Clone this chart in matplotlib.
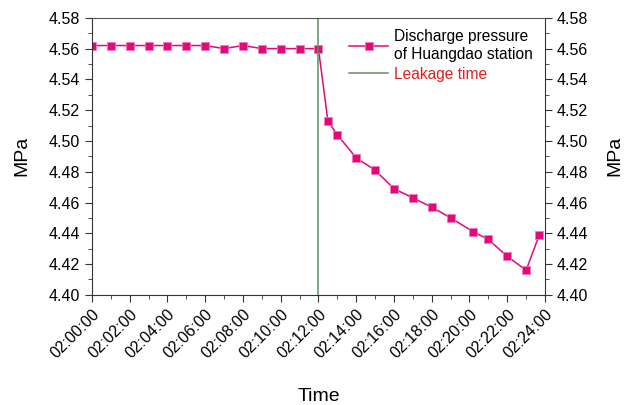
import matplotlib.pyplot as plt
import numpy as np

plt.rcParams['font.family'] = ['Liberation Sans', 'DejaVu Sans']

# minutes after 02:00:00
minutes = np.array([0, 1, 2, 3, 4, 5, 6, 7, 8, 9, 10, 11, 12,
                    12.5, 13, 14, 15, 16, 17, 18, 19, 20.2, 21, 22, 23, 23.7])
pressure = np.array([4.562, 4.562, 4.562, 4.562, 4.562, 4.562, 4.562, 4.560, 4.562,
                     4.560, 4.560, 4.560, 4.560,
                     4.513, 4.504, 4.489, 4.481, 4.469, 4.463, 4.457, 4.450,
                     4.441, 4.436, 4.425, 4.416, 4.439])
leak_minute = 12
tick_minutes = np.arange(0, 25, 2)
tick_labels = ["02:%02d:00" % m for m in tick_minutes]

pink = '#e2097c'
green = '#5f8f63'
axcol = '#3a3333'

fig = plt.figure(figsize=(6.25, 4.05), dpi=100)
ax = fig.add_axes([0.147, 0.272, 0.725, 0.684])

ax.plot(minutes, pressure, color=pink, lw=1.1, marker='s', ms=5.5,
        mec='#f07ab5', mew=0.6, label="Discharge pressure\nof Huangdao station")
ax.axvline(leak_minute, color=green, lw=1.1, label="Leakage time")

ax.set_xlim(0, 24)
ax.set_ylim(4.40, 4.58)
ax.set_xticks(tick_minutes)
ax.set_xticks(np.arange(1, 24, 2), minor=True)
ax.set_xticklabels(tick_labels, rotation=45, ha='right', rotation_mode='anchor', fontsize=11.5)
yt = np.arange(4.40, 4.581, 0.02)
ax.set_yticks(yt)
ax.set_yticks(np.arange(4.41, 4.58, 0.02), minor=True)
ax.set_yticklabels(["%.2f" % v for v in yt], fontsize=11.5)
ax.tick_params(which='major', length=5, color=axcol, direction='out')
ax.tick_params(which='minor', length=3, color=axcol, direction='out')
ax.tick_params(axis='y', labelright=True, right=True, which='both')
ax.tick_params(axis='y', labelsize=11.5)
for s in ax.spines.values():
    s.set_color(axcol)
ax.spines['top'].set_color('#555555')

fig.text(0.035, 0.615, "MPa", fontsize=14, rotation=90, ha='center', va='center')
fig.text(0.984, 0.615, "MPa", fontsize=14, rotation=90, ha='center', va='center')
fig.text(0.51, 0.02, "Time", fontsize=14, ha='center', va='center')

leg = ax.legend(loc='upper right', frameon=False, fontsize=11.2, handlelength=2.5,
                borderaxespad=0.35, labelspacing=0.3, handletextpad=0.4)
leg.get_texts()[1].set_color('#e02020')

fig.savefig('out.png', dpi=100)
